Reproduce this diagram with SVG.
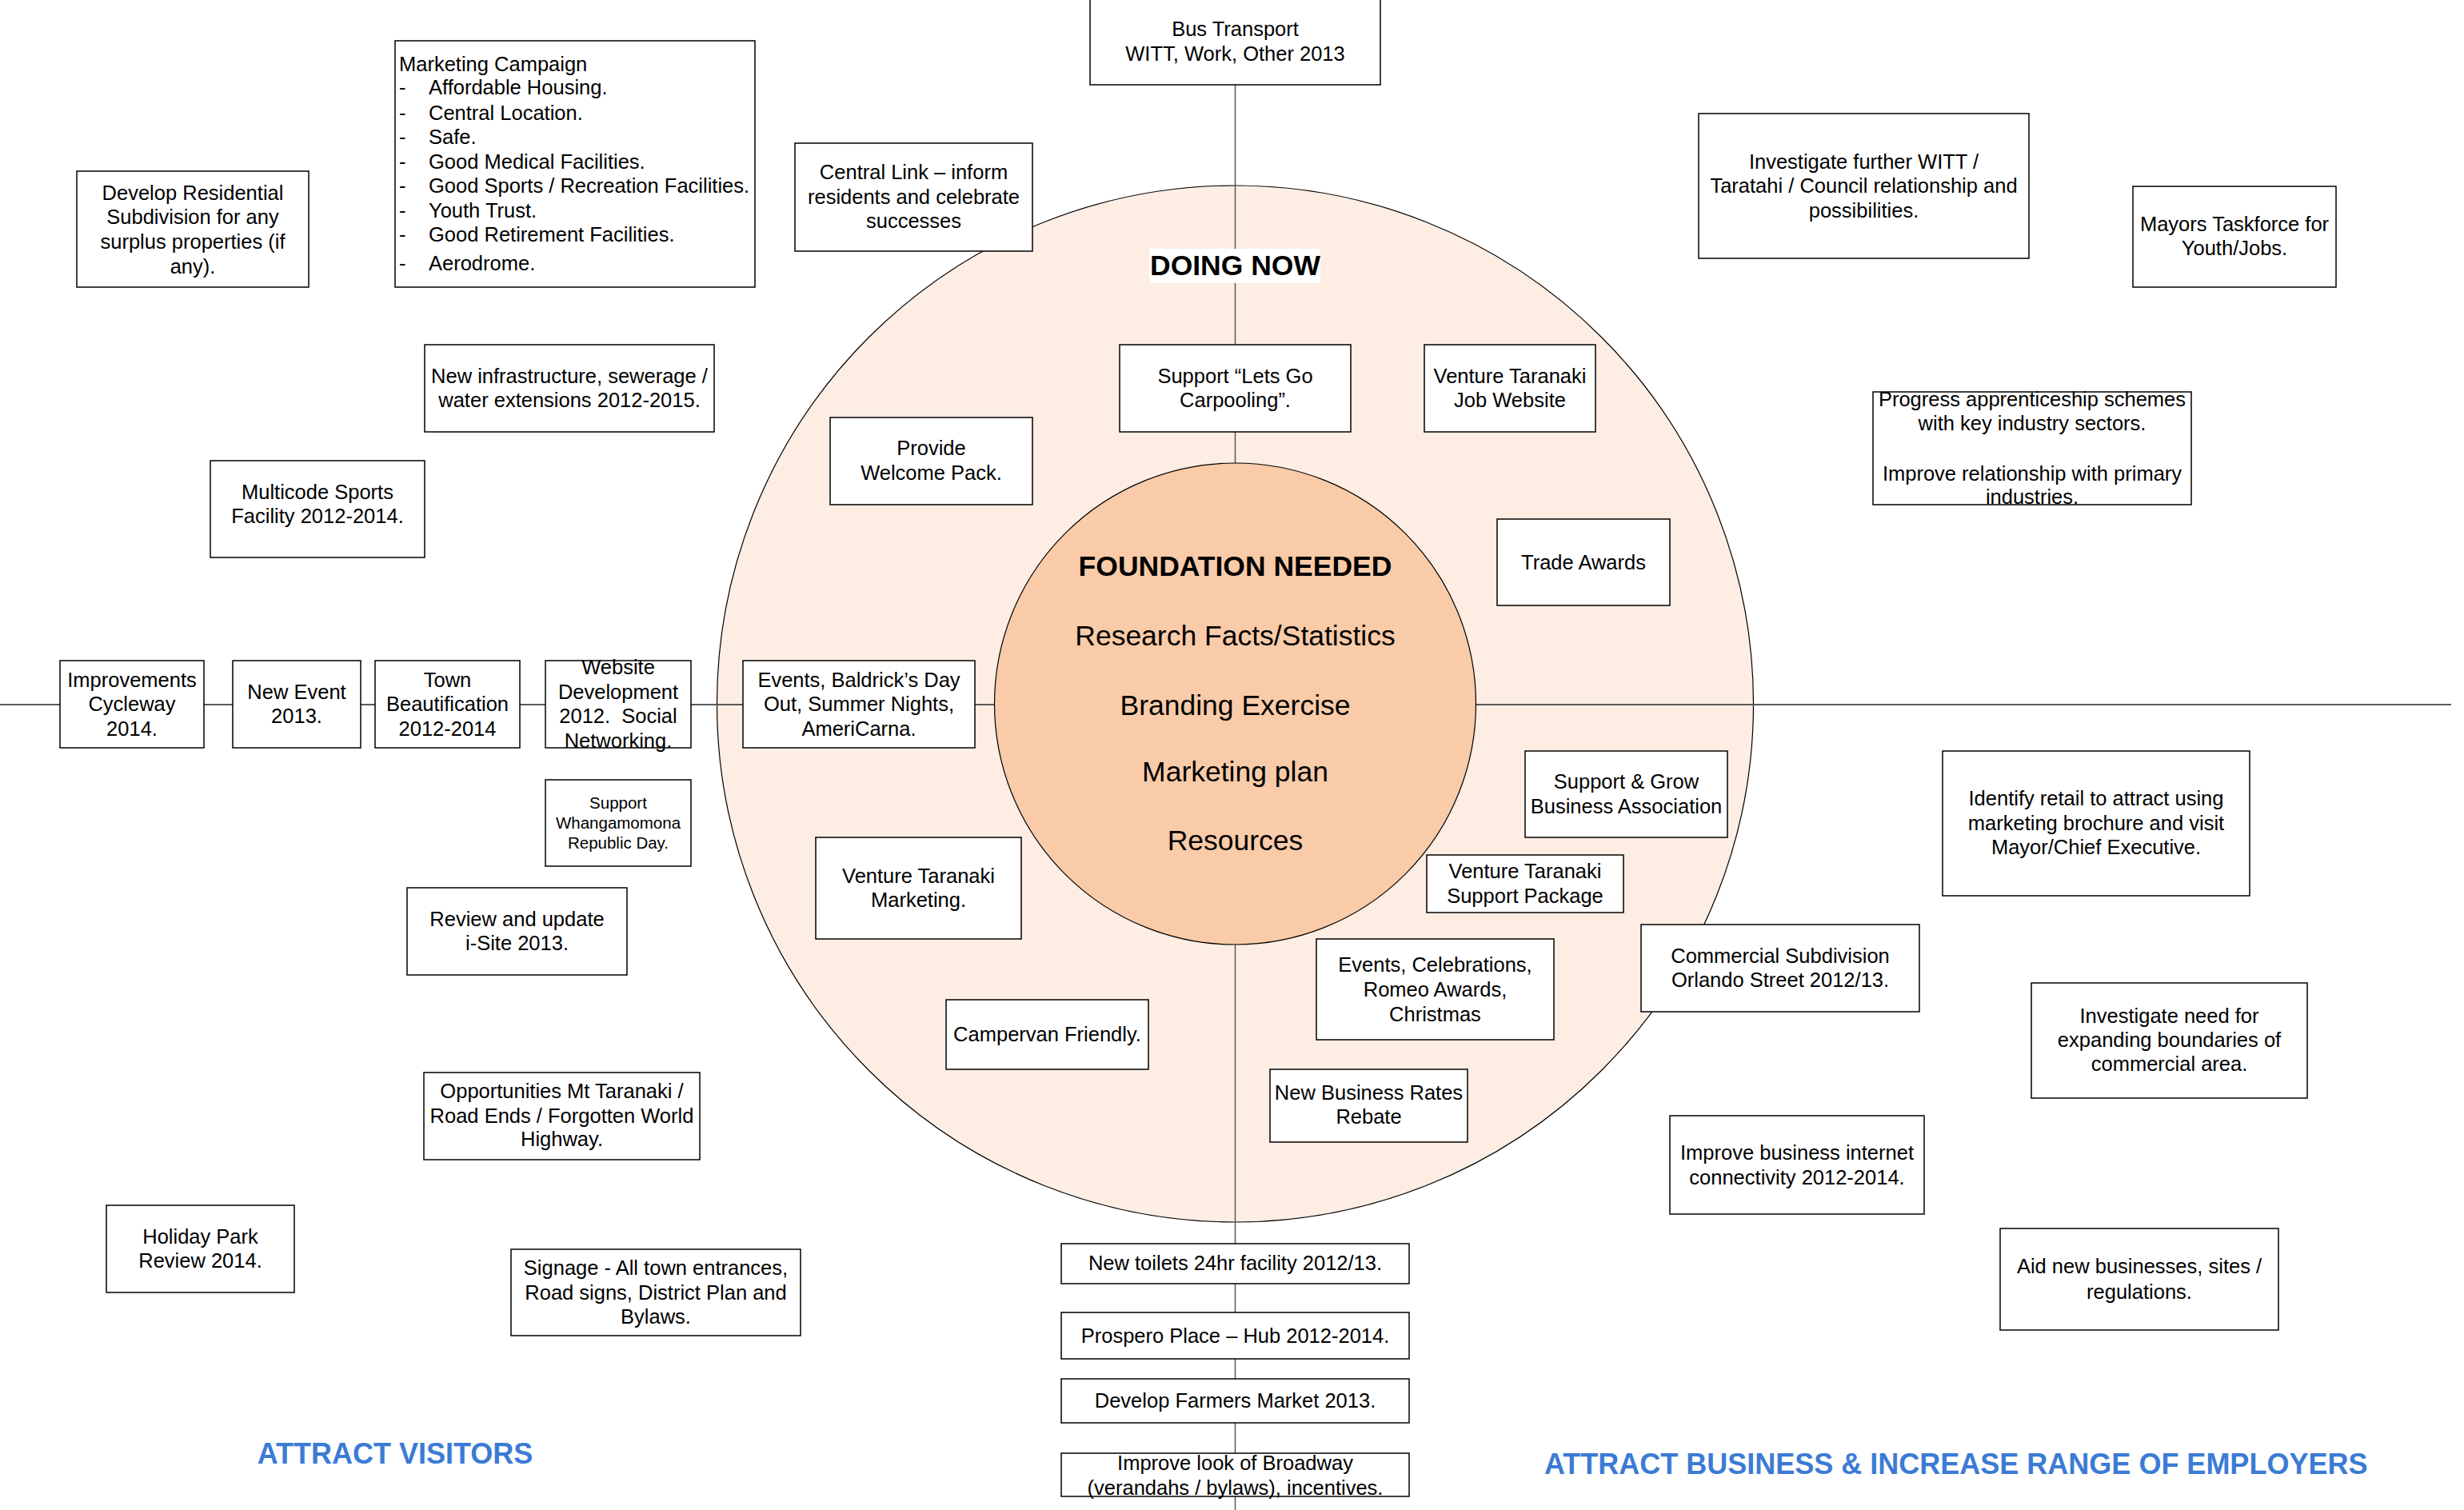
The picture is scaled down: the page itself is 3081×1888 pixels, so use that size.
<svg xmlns="http://www.w3.org/2000/svg" width="3081" height="1888" viewBox="0 0 3081 1888">
<style>
.bg{fill:#ffffff}
.box{fill:#ffffff;stroke:#000000;stroke-width:1.5}
.t{font-family:'Liberation Sans',Arial,sans-serif;font-size:25.5px;fill:#000000;text-anchor:middle}
.tl{font-family:'Liberation Sans',Arial,sans-serif;font-size:25.5px;fill:#000000;text-anchor:start}
.ts{font-family:'Liberation Sans',Arial,sans-serif;font-size:20.5px;fill:#000000;text-anchor:middle}
.big{font-family:'Liberation Sans',Arial,sans-serif;font-size:35.5px;fill:#000000;text-anchor:middle}
.bold{font-weight:bold}
.blue{font-family:'Liberation Sans',Arial,sans-serif;font-size:36px;font-weight:bold;fill:#3b7bd4}
.conn{stroke:#5a5a5a;fill:none}
</style>
<rect class="bg" x="0" y="0" width="3081" height="1888"/>
<g id="outer-circle">
<circle cx="1544.5" cy="880" r="648" fill="#fdede3" stroke="#000000" stroke-width="1.2"/>
</g>
<g id="connectors">
<line class="conn" x1="0" y1="881" x2="3065" y2="881" stroke-width="2"/>
<line class="conn" x1="1544.5" y1="106" x2="1544.5" y2="1888" stroke-width="1.5"/>
</g>
<g id="inner-circle">
<circle cx="1544.5" cy="880" r="301" fill="#f9cba8" stroke="#000000" stroke-width="1.2"/>
<text class="big bold" x="1544.5" y="720">FOUNDATION NEEDED</text>
<text class="big" x="1544.5" y="807">Research Facts/Statistics</text>
<text class="big" x="1544.5" y="894">Branding Exercise</text>
<text class="big" x="1544.5" y="977">Marketing plan</text>
<text class="big" x="1544.5" y="1063">Resources</text>
</g>
<g id="doing-now">
<rect x="1437" y="311" width="214" height="43" fill="#ffffff"/>
<text class="big bold" x="1544.5" y="344">DOING NOW</text>
</g>
<g id="bus-transport">
<rect class="box" x="1363" y="-2" width="363" height="108"/>
<text class="t" x="1544.5" y="45">Bus Transport</text>
<text class="t" x="1544.5" y="76">WITT, Work, Other 2013</text>
</g>
<g id="marketing-campaign">
<rect class="box" x="494" y="51" width="450" height="308"/>
<text class="tl" x="499" y="88.5">Marketing Campaign</text>
<text class="tl" x="499" y="118">-</text><text class="tl" x="536" y="118">Affordable Housing.</text>
<text class="tl" x="499" y="150">-</text><text class="tl" x="536" y="150">Central Location.</text>
<text class="tl" x="499" y="179.5">-</text><text class="tl" x="536" y="179.5">Safe.</text>
<text class="tl" x="499" y="211">-</text><text class="tl" x="536" y="211">Good Medical Facilities.</text>
<text class="tl" x="499" y="241">-</text><text class="tl" x="536" y="241">Good Sports / Recreation Facilities.</text>
<text class="tl" x="499" y="271.5">-</text><text class="tl" x="536" y="271.5">Youth Trust.</text>
<text class="tl" x="499" y="302">-</text><text class="tl" x="536" y="302">Good Retirement Facilities.</text>
<text class="tl" x="499" y="338">-</text><text class="tl" x="536" y="338">Aerodrome.</text>
</g>
<g id="develop-residential">
<rect class="box" x="96" y="214" width="290" height="145"/>
<text class="t" x="241" y="250">Develop Residential</text>
<text class="t" x="241" y="280">Subdivision for any</text>
<text class="t" x="241" y="311">surplus properties (if</text>
<text class="t" x="241" y="342">any).</text>
</g>
<g id="central-link">
<rect class="box" x="994" y="179" width="297" height="135"/>
<text class="t" x="1142.5" y="224">Central Link – inform</text>
<text class="t" x="1142.5" y="254.5">residents and celebrate</text>
<text class="t" x="1142.5" y="285">successes</text>
</g>
<g id="new-infrastructure">
<rect class="box" x="531" y="431" width="362" height="109"/>
<text class="t" x="712" y="479">New infrastructure, sewerage /</text>
<text class="t" x="712" y="509">water extensions 2012-2015.</text>
</g>
<g id="multicode-sports">
<rect class="box" x="263" y="576" width="268" height="121"/>
<text class="t" x="397" y="624">Multicode Sports</text>
<text class="t" x="397" y="654">Facility 2012-2014.</text>
</g>
<g id="lets-go-carpooling">
<rect class="box" x="1400" y="431" width="289" height="109"/>
<text class="t" x="1544.5" y="479">Support “Lets Go</text>
<text class="t" x="1544.5" y="509">Carpooling”.</text>
</g>
<g id="vt-job-website">
<rect class="box" x="1781" y="431" width="214" height="109"/>
<text class="t" x="1888" y="479">Venture Taranaki</text>
<text class="t" x="1888" y="509">Job Website</text>
</g>
<g id="welcome-pack">
<rect class="box" x="1038" y="522" width="253" height="109"/>
<text class="t" x="1164.5" y="569">Provide</text>
<text class="t" x="1164.5" y="600">Welcome Pack.</text>
</g>
<g id="investigate-witt">
<rect class="box" x="2124" y="142" width="413" height="181"/>
<text class="t" x="2330.5" y="211">Investigate further WITT /</text>
<text class="t" x="2330.5" y="241">Taratahi / Council relationship and</text>
<text class="t" x="2330.5" y="272">possibilities.</text>
</g>
<g id="mayors-taskforce">
<rect class="box" x="2667" y="233" width="254" height="126"/>
<text class="t" x="2794" y="289">Mayors Taskforce for</text>
<text class="t" x="2794" y="319">Youth/Jobs.</text>
</g>
<g id="apprenticeship">
<rect class="box" x="2342" y="490" width="398" height="141"/>
<text class="t" x="2541" y="508">Progress apprenticeship schemes</text>
<text class="t" x="2541" y="538">with key industry sectors.</text>
<text class="t" x="2541" y="600.5">Improve relationship with primary</text>
<text class="t" x="2541" y="629.5">industries.</text>
</g>
<g id="trade-awards">
<rect class="box" x="1872" y="649" width="216" height="108"/>
<text class="t" x="1980" y="712">Trade Awards</text>
</g>
<g id="cycleway">
<rect class="box" x="75" y="826" width="180" height="109"/>
<text class="t" x="165" y="859">Improvements</text>
<text class="t" x="165" y="889">Cycleway</text>
<text class="t" x="165" y="920">2014.</text>
</g>
<g id="new-event">
<rect class="box" x="291" y="826" width="160" height="109"/>
<text class="t" x="371" y="874">New Event</text>
<text class="t" x="371" y="904">2013.</text>
</g>
<g id="town-beautification">
<rect class="box" x="469" y="826" width="181" height="109"/>
<text class="t" x="559.5" y="859">Town</text>
<text class="t" x="559.5" y="889">Beautification</text>
<text class="t" x="559.5" y="920">2012-2014</text>
</g>
<g id="website-development">
<rect class="box" x="682" y="826" width="182" height="109"/>
<text class="t" x="773" y="843">Website</text>
<text class="t" x="773" y="874">Development</text>
<text class="t" x="773" y="904">2012.&#160; Social</text>
<text class="t" x="773" y="935">Networking.</text>
</g>
<g id="events-baldricks">
<rect class="box" x="929" y="826" width="290" height="109"/>
<text class="t" x="1074" y="859">Events, Baldrick’s Day</text>
<text class="t" x="1074" y="889">Out, Summer Nights,</text>
<text class="t" x="1074" y="920">AmeriCarna.</text>
</g>
<g id="whangamomona">
<rect class="box" x="682" y="975" width="182" height="108"/>
<text class="ts" x="773" y="1011">Support</text>
<text class="ts" x="773" y="1036">Whangamomona</text>
<text class="ts" x="773" y="1061">Republic Day.</text>
</g>
<g id="isite">
<rect class="box" x="509" y="1110" width="275" height="109"/>
<text class="t" x="646.5" y="1158">Review and update</text>
<text class="t" x="646.5" y="1188">i-Site 2013.</text>
</g>
<g id="business-association">
<rect class="box" x="1907" y="939" width="253" height="108"/>
<text class="t" x="2033.5" y="986">Support &amp; Grow</text>
<text class="t" x="2033.5" y="1017">Business Association</text>
</g>
<g id="vt-support-package">
<rect class="box" x="1784" y="1069" width="246" height="72"/>
<text class="t" x="1907" y="1098">Venture Taranaki</text>
<text class="t" x="1907" y="1129">Support Package</text>
</g>
<g id="vt-marketing">
<rect class="box" x="1020" y="1047" width="257" height="127"/>
<text class="t" x="1148.5" y="1104">Venture Taranaki</text>
<text class="t" x="1148.5" y="1134">Marketing.</text>
</g>
<g id="identify-retail">
<rect class="box" x="2429" y="939" width="384" height="181"/>
<text class="t" x="2621" y="1007">Identify retail to attract using</text>
<text class="t" x="2621" y="1038">marketing brochure and visit</text>
<text class="t" x="2621" y="1068">Mayor/Chief Executive.</text>
</g>
<g id="commercial-subdivision">
<rect class="box" x="2052" y="1156" width="348" height="109"/>
<text class="t" x="2226" y="1204">Commercial Subdivision</text>
<text class="t" x="2226" y="1234">Orlando Street 2012/13.</text>
</g>
<g id="campervan">
<rect class="box" x="1183" y="1250" width="253" height="87"/>
<text class="t" x="1309.5" y="1302">Campervan Friendly.</text>
</g>
<g id="events-celebrations">
<rect class="box" x="1646" y="1174" width="297" height="126"/>
<text class="t" x="1794.5" y="1215">Events, Celebrations,</text>
<text class="t" x="1794.5" y="1246">Romeo Awards,</text>
<text class="t" x="1794.5" y="1277">Christmas</text>
</g>
<g id="commercial-boundaries">
<rect class="box" x="2540" y="1229" width="345" height="144"/>
<text class="t" x="2712.5" y="1279">Investigate need for</text>
<text class="t" x="2712.5" y="1309">expanding boundaries of</text>
<text class="t" x="2712.5" y="1339">commercial area.</text>
</g>
<g id="opportunities">
<rect class="box" x="530" y="1341" width="345" height="109"/>
<text class="t" x="702.5" y="1373">Opportunities Mt Taranaki /</text>
<text class="t" x="702.5" y="1404">Road Ends / Forgotten World</text>
<text class="t" x="702.5" y="1433">Highway.</text>
</g>
<g id="rates-rebate">
<rect class="box" x="1588" y="1337" width="247" height="91"/>
<text class="t" x="1711.5" y="1375">New Business Rates</text>
<text class="t" x="1711.5" y="1405">Rebate</text>
</g>
<g id="internet">
<rect class="box" x="2088" y="1395" width="318" height="123"/>
<text class="t" x="2247" y="1450">Improve business internet</text>
<text class="t" x="2247" y="1481">connectivity 2012-2014.</text>
</g>
<g id="holiday-park">
<rect class="box" x="133" y="1507" width="235" height="109"/>
<text class="t" x="250.5" y="1555">Holiday Park</text>
<text class="t" x="250.5" y="1585">Review 2014.</text>
</g>
<g id="signage">
<rect class="box" x="639" y="1562" width="362" height="108"/>
<text class="t" x="820" y="1594">Signage - All town entrances,</text>
<text class="t" x="820" y="1625">Road signs, District Plan and</text>
<text class="t" x="820" y="1655">Bylaws.</text>
</g>
<g id="aid-businesses">
<rect class="box" x="2501" y="1536" width="348" height="127"/>
<text class="t" x="2675" y="1592">Aid new businesses, sites /</text>
<text class="t" x="2675" y="1624">regulations.</text>
</g>
<g id="toilets">
<rect class="box" x="1327" y="1555" width="435" height="50"/>
<text class="t" x="1544.5" y="1588">New toilets 24hr facility 2012/13.</text>
</g>
<g id="prospero">
<rect class="box" x="1327" y="1641" width="435" height="58"/>
<text class="t" x="1544.5" y="1679">Prospero Place – Hub 2012-2014.</text>
</g>
<g id="farmers-market">
<rect class="box" x="1327" y="1724" width="435" height="55"/>
<text class="t" x="1544.5" y="1760">Develop Farmers Market 2013.</text>
</g>
<g id="broadway">
<rect class="box" x="1327" y="1817" width="435" height="54"/>
<text class="t" x="1544.5" y="1838">Improve look of Broadway</text>
<text class="t" x="1544.5" y="1869">(verandahs / bylaws), incentives.</text>
</g>
<g id="labels">
<text class="blue" x="494" y="1830" text-anchor="middle">ATTRACT VISITORS</text>
<text class="blue" x="1931" y="1843" text-anchor="start">ATTRACT BUSINESS &amp; INCREASE RANGE OF EMPLOYERS</text>
</g>
</svg>
